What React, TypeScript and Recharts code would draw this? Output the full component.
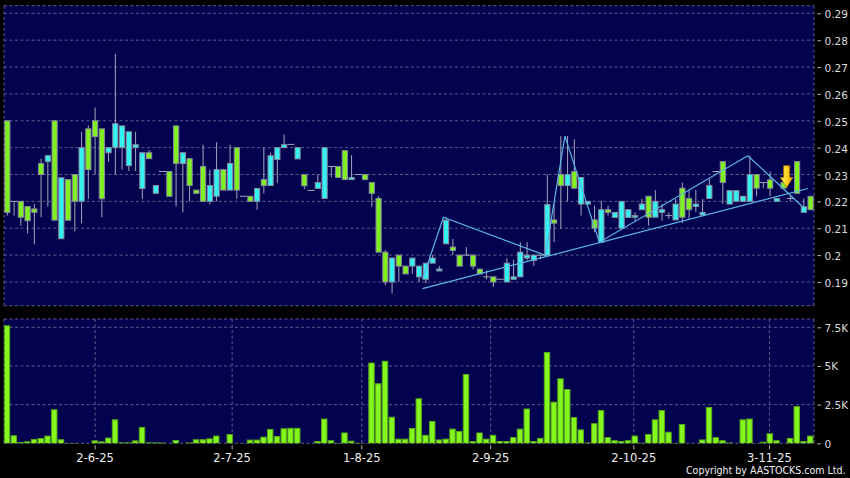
import React from 'react';
import { ComposedChart, Bar, Line, XAxis, YAxis, CartesianGrid, ReferenceDot } from 'recharts';

// ---------- data ----------
const opens = [
  0.25, 0.22, 0.22, 0.2181, 0.2172, 0.2341, 0.2348, 0.25, 0.2061, 0.2281,
  0.23, 0.22, 0.247, 0.25, 0.247, 0.2381, 0.24, 0.24, 0.2333, 0.24,
  0.2248, 0.2381, 0.223, 0.2311, 0.2311, 0.2481, 0.2341, 0.2359, 0.2242, 0.233,
  0.22, 0.2219, 0.2318, 0.2242, 0.24, 0.2219, 0.2219, 0.22, 0.2281, 0.2259,
  0.2356, 0.24, 0.2412, 0.2358, 0.23, 0.2241, 0.2248, 0.2211, 0.233, 0.233,
  0.2389, 0.2281, 0.23, 0.23, 0.227, 0.2211, 0.2011, 0.19, 0.2, 0.1959,
  0.1959, 0.1919, 0.191, 0.197, 0.1941, 0.2042, 0.203, 0.2, 0.2, 0.2,
  0.1948, 0.1919, 0.1919, 0.191, 0.19, 0.191, 0.1919, 0.1989, 0.198, 0.2,
  0.1999, 0.2131, 0.23, 0.2259, 0.2311, 0.219, 0.219, 0.2131, 0.2048, 0.2169,
  0.214, 0.21, 0.214, 0.2141, 0.2169, 0.2219, 0.2141, 0.2159, 0.2147, 0.2131,
  0.2249, 0.2211, 0.2181, 0.2149, 0.2211, 0.2311, 0.2348, 0.219, 0.22, 0.22,
  0.22, 0.23, 0.227, 0.228, 0.22, 0.227, 0.2211, 0.2348, 0.2159, 0.2219,
];
const highs = [
  0.25, 0.22, 0.22, 0.2181, 0.219, 0.2359, 0.237, 0.25, 0.2288, 0.2281,
  0.23, 0.2459, 0.2483, 0.2549, 0.247, 0.24, 0.2749, 0.2481, 0.2459, 0.2459,
  0.2381, 0.2391, 0.2259, 0.2311, 0.2311, 0.2481, 0.2381, 0.2359, 0.2242, 0.2411,
  0.2318, 0.242, 0.2318, 0.2411, 0.24, 0.2219, 0.2219, 0.2248, 0.24, 0.2381,
  0.24, 0.2449, 0.2412, 0.24, 0.23, 0.2241, 0.23, 0.24, 0.233, 0.233,
  0.2389, 0.2372, 0.23, 0.23, 0.227, 0.2219, 0.2019, 0.1989, 0.2, 0.1959,
  0.1989, 0.1959, 0.197, 0.2, 0.1959, 0.2141, 0.206, 0.2, 0.203, 0.2,
  0.1948, 0.1943, 0.1919, 0.191, 0.1989, 0.1983, 0.2048, 0.2048, 0.2, 0.2,
  0.23, 0.2189, 0.2443, 0.2443, 0.2431, 0.2289, 0.22, 0.2184, 0.2202, 0.2184,
  0.2159, 0.22, 0.2169, 0.2159, 0.2209, 0.2219, 0.2242, 0.219, 0.2159, 0.2209,
  0.227, 0.2242, 0.2242, 0.2209, 0.2283, 0.2311, 0.2348, 0.224, 0.224, 0.2219,
  0.2369, 0.23, 0.227, 0.2311, 0.2211, 0.227, 0.2219, 0.2348, 0.2211, 0.2219,
];
const lows = [
  0.2147, 0.2147, 0.211, 0.2081, 0.204, 0.2141, 0.2181, 0.213, 0.2061, 0.213,
  0.2089, 0.2119, 0.2209, 0.23, 0.2141, 0.2347, 0.23, 0.2318, 0.2313, 0.2313,
  0.2209, 0.2359, 0.223, 0.2311, 0.2219, 0.2181, 0.2159, 0.22, 0.223, 0.22,
  0.2189, 0.22, 0.2242, 0.2242, 0.2209, 0.2219, 0.22, 0.2169, 0.223, 0.2259,
  0.2269, 0.24, 0.2412, 0.2358, 0.2246, 0.2241, 0.2248, 0.2211, 0.2289, 0.2289,
  0.2281, 0.2281, 0.23, 0.2281, 0.218, 0.2011, 0.1888, 0.1858, 0.19, 0.193,
  0.193, 0.19, 0.1895, 0.197, 0.1941, 0.2042, 0.2, 0.1959, 0.2, 0.1947,
  0.193, 0.191, 0.1881, 0.191, 0.19, 0.191, 0.1919, 0.198, 0.1959, 0.1985,
  0.1999, 0.2048, 0.2098, 0.22, 0.2249, 0.2147, 0.219, 0.2085, 0.2048, 0.2147,
  0.214, 0.21, 0.214, 0.2128, 0.2169, 0.211, 0.2141, 0.2128, 0.2135, 0.2131,
  0.212, 0.2135, 0.216, 0.2149, 0.2211, 0.2311, 0.219, 0.219, 0.22, 0.22,
  0.22, 0.2219, 0.2249, 0.2219, 0.22, 0.2249, 0.22, 0.223, 0.2159, 0.2169,
];
const closes = [
  0.2159, 0.22, 0.2141, 0.2128, 0.2159, 0.23, 0.237, 0.213, 0.2288, 0.213,
  0.22, 0.24, 0.2318, 0.2441, 0.221, 0.24, 0.2489, 0.2481, 0.2459, 0.2411,
  0.2381, 0.2359, 0.2259, 0.2311, 0.2219, 0.2341, 0.2381, 0.2259, 0.223, 0.22,
  0.2259, 0.2318, 0.2242, 0.2341, 0.2242, 0.2219, 0.22, 0.2248, 0.2259, 0.237,
  0.24, 0.2411, 0.2412, 0.24, 0.2258, 0.2241, 0.227, 0.24, 0.233, 0.2289,
  0.2281, 0.2289, 0.23, 0.2281, 0.223, 0.2011, 0.19, 0.1989, 0.1959, 0.193,
  0.1989, 0.1959, 0.197, 0.1989, 0.1948, 0.213, 0.2017, 0.1959, 0.2, 0.1959,
  0.193, 0.1919, 0.19, 0.191, 0.197, 0.1919, 0.2011, 0.2, 0.2, 0.2,
  0.2188, 0.2119, 0.2259, 0.23, 0.2249, 0.2289, 0.22, 0.21, 0.2169, 0.2159,
  0.2159, 0.22, 0.2169, 0.2147, 0.219, 0.2141, 0.22, 0.2169, 0.2147, 0.219,
  0.2141, 0.2169, 0.219, 0.2159, 0.2259, 0.2311, 0.227, 0.224, 0.224, 0.2219,
  0.23, 0.2249, 0.227, 0.2249, 0.2211, 0.2249, 0.2211, 0.223, 0.218, 0.2169,
];
const volumes = [
  7630, 520, 90, 130, 280, 340, 500, 2200, 260, 20,
  20, 0, 0, 190, 130, 370, 1550, 60, 60, 190,
  1060, 60, 60, 50, 0, 220, 0, 50, 260, 260,
  320, 500, 0, 600, 0, 0, 240, 240, 430, 930,
  470, 970, 1000, 1000, 0, 0, 150, 1600, 200, 20,
  700, 170, 30, 0, 5220, 3880, 5340, 1720, 300, 300,
  990, 2910, 550, 1450, 250, 300, 950, 800, 4480, 150,
  700, 300, 550, 150, 150, 400, 950, 2250, 150, 350,
  5900, 2690, 4200, 3510, 1700, 900, 50, 1300, 2150, 400,
  200, 150, 200, 500, 30, 600, 1550, 2150, 750, 20,
  1250, 0, 0, 250, 2350, 400, 200, 50, 0, 1550,
  1600, 0, 100, 650, 200, 0, 350, 2400, 150, 500,
];

const dateTickIndex = [13.0, 33.3, 52.5, 71.6, 92.8, 112.9];
const dateTickLabels = ['2-6-25', '2-7-25', '1-8-25', '2-9-25', '2-10-25', '3-11-25'];
const priceTicks = [0.19, 0.2, 0.21, 0.22, 0.23, 0.24, 0.25, 0.26, 0.27, 0.28, 0.29];
const volumeTicks = [0, 2500, 5000, 7500];
const volumeTickLabels = ['0', '2.5K', '5K', '7.5K'];

const zigzagIndex = [61.5, 64.6, 79.7, 82.6, 87.7, 109.7, 117.9];
const zigzagPrice = [0.191, 0.2141, 0.1999, 0.2443, 0.2048, 0.237, 0.2178];
const trendIndex = [61.5, 118.6];
const trendPrice = [0.1875, 0.2248];
const signalIndex = 115.45;
const signalPrice = 0.2252;

const priceDomain = [0.18117, 0.29283];
const volumeDomain = [0, 8037];
const indexDomain = [-0.5, 119.5];

// ---------- tables built from the arrays ----------
const candles = opens.map((o, i) => ({
  i,
  open: o,
  high: Math.max(highs[i], o, closes[i]),
  low: Math.min(lows[i], o, closes[i]),
  close: closes[i],
  vol: volumes[i],
}));
const zigzagData = zigzagIndex.map((i, k) => ({ i, v: zigzagPrice[k] }));
const trendData = trendIndex.map((i, k) => ({ i, v: trendPrice[k] }));

// ---------- styles ----------
const NAVY = '#02024e';
const GRID = '#5c5c8c';
const GREEN = '#80f020';
const CYAN = '#34f2f2';
const OUTLINE = '#8888a0';
const WICK = '#a6a6be';
const TEXT = '#dcdcdc';
const VOL_FILL = '#84f81c';
const VOL_STROKE = '#58aa18';
const LINE = '#5cb6e8';
const FONT = '"DejaVu Sans", Verdana, sans-serif';

const renderCandle = (props: any) => {
  const { x, y, width, height, payload } = props;
  if (x == null || y == null || !payload) return <g />;
  const { open, close, high, low } = payload;
  const cx = x + width / 2;
  const top = Math.min(y, y + height);
  const h = Math.abs(height);
  const range = high - low;
  const ppu = range > 1e-5 ? h / range : 0;
  const yOf = (v: number) => top + (high - v) * ppu;
  const bodyTop = yOf(Math.max(open, close));
  const bodyBot = yOf(Math.min(open, close));
  if (Math.abs(close - open) < 1e-6) {
    return (
      <g>
        {range > 1e-5 && <line x1={cx} x2={cx} y1={yOf(high)} y2={yOf(low)} stroke={WICK} strokeWidth={1} />}
        <line x1={cx - 3.6} x2={cx + 3.6} y1={bodyTop} y2={bodyTop} stroke={WICK} strokeWidth={1} />
      </g>
    );
  }
  const fill = close > open ? CYAN : GREEN;
  return (
    <g>
      <line x1={cx} x2={cx} y1={yOf(high)} y2={yOf(low)} stroke={WICK} strokeWidth={1} />
      <rect x={cx - 2.6} y={bodyTop} width={5.2} height={Math.max(bodyBot - bodyTop, 1.5)} fill={fill} stroke={OUTLINE} strokeWidth={1} />
    </g>
  );
};

const renderVolume = (props: any) => {
  const { x, y, width, height } = props;
  if (x == null || !height || height <= 0) return <g />;
  const cx = x + width / 2;
  return (
    <rect x={cx - 2.7} y={y + 0.5} width={5.4} height={Math.max(height - 0.5, 0.6)} fill={VOL_FILL} stroke={VOL_STROKE} strokeWidth={1} />
  );
};

const renderArrow = (props: any) => {
  const { cx, cy } = props;
  if (cx == null || cy == null) return <g />;
  const d = `M ${cx - 3} ${cy - 21.6} L ${cx + 3} ${cy - 21.6} L ${cx + 3} ${cy - 10} L ${cx + 6.3} ${cy - 10} L ${cx} ${cy} L ${cx - 6.3} ${cy - 10} L ${cx - 3} ${cy - 10} Z`;
  return (
    <g>
      <defs>
        <linearGradient id="arrowGrad" x1="0" y1="0" x2="1" y2="0">
          <stop offset="0%" stopColor="#fff27a" />
          <stop offset="55%" stopColor="#ffd21a" />
          <stop offset="100%" stopColor="#e89a00" />
        </linearGradient>
      </defs>
      <path d={d} fill="url(#arrowGrad)" stroke="#b87a00" strokeWidth={0.8} />
    </g>
  );
};

const PriceTick = (props: any) => {
  const { x, y, payload } = props;
  const label = String(Math.round(payload.value * 100) / 100);
  return (
    <g>
      <line x1={x + 3.5} x2={x + 7} y1={y + 0.5} y2={y + 0.5} stroke="#b4b4b4" strokeWidth={1} />
      <text x={x + 10.5} y={y} dy={5} fill={TEXT} fontSize={10.5} fontFamily={FONT}>{label}</text>
    </g>
  );
};

const VolumeTick = (props: any) => {
  const { x, y, payload } = props;
  const k = volumeTicks.indexOf(payload.value);
  const label = k >= 0 ? volumeTickLabels[k] : '';
  return (
    <g>
      <line x1={x + 3.5} x2={x + 7} y1={y + 0.5} y2={y + 0.5} stroke="#b4b4b4" strokeWidth={1} />
      <text x={x + 10.5} y={y} dy={4.5} fill={TEXT} fontSize={10.5} fontFamily={FONT}>{label}</text>
    </g>
  );
};

const DateTick = (props: any) => {
  const { x, y, payload } = props;
  let k = -1;
  dateTickIndex.forEach((v, j) => { if (Math.abs(v - payload.value) < 1e-6) k = j; });
  const label = k >= 0 ? dateTickLabels[k] : '';
  return (
    <g>
      <line x1={x} x2={x} y1={y + 2} y2={y + 6} stroke="#b4b4b4" strokeWidth={1} />
      <text x={x} y={y} dy={18.4} textAnchor="middle" fill="#ececec" fontSize={11.5} fontFamily={FONT}>{label}</text>
    </g>
  );
};

export default function App() {
  return (
    <div style={{ position: 'absolute', left: 0, top: 0, width: 850, height: 478, background: '#000', overflow: 'hidden' }}>
      <div style={{ position: 'absolute', left: 0, top: 0 }}>
        <ComposedChart width={850} height={310} data={candles} margin={{ top: 5.7, right: 0, bottom: 4.3, left: 4 }}>
          <CartesianGrid stroke={GRID} strokeDasharray="3 2.5" fill={NAVY} fillOpacity={1} />
          <XAxis
            dataKey="i"
            type="number"
            domain={indexDomain}
            allowDataOverflow
            ticks={dateTickIndex}
            interval={0}
            height={0}
            tick={false}
            axisLine={false}
            tickLine={false}
          />
          <YAxis
            orientation="right"
            width={36}
            type="number"
            domain={priceDomain}
            allowDataOverflow
            ticks={priceTicks}
            interval={0}
            tickSize={0}
            tickMargin={0}
            axisLine={false}
            tickLine={false}
            tick={<PriceTick />}
          />
          <Bar
            dataKey={(d: any) => [d.low, d.high > d.low ? d.high : d.low + 0.00001]}
            barSize={6}
            shape={renderCandle}
            isAnimationActive={false}
          />
          <Line data={trendData} dataKey="v" stroke={LINE} strokeWidth={1.2} dot={false} activeDot={false} isAnimationActive={false} />
          <Line data={zigzagData} dataKey="v" stroke={LINE} strokeWidth={1.2} dot={false} activeDot={false} isAnimationActive={false} />
          <ReferenceDot x={signalIndex} y={signalPrice} shape={renderArrow} />
        </ComposedChart>
      </div>
      <div style={{ position: 'absolute', left: 0, top: 310 }}>
        <ComposedChart width={850} height={168} data={candles} margin={{ top: 9, right: 0, bottom: 4.7, left: 4 }}>
          <CartesianGrid stroke={GRID} strokeDasharray="3 2.5" fill={NAVY} fillOpacity={1} />
          <XAxis
            dataKey="i"
            type="number"
            domain={indexDomain}
            allowDataOverflow
            ticks={dateTickIndex}
            interval={0}
            height={30}
            tickSize={0}
            tickMargin={0}
            axisLine={false}
            tickLine={false}
            tick={<DateTick />}
          />
          <YAxis
            orientation="right"
            width={36}
            type="number"
            domain={volumeDomain}
            allowDataOverflow
            ticks={volumeTicks}
            interval={0}
            tickSize={0}
            tickMargin={0}
            axisLine={false}
            tickLine={false}
            tick={<VolumeTick />}
          />
          <Bar dataKey="vol" barSize={6} shape={renderVolume} isAnimationActive={false} />
        </ComposedChart>
      </div>
      <svg width={850} height={478} style={{ position: 'absolute', left: 0, top: 0, pointerEvents: 'none' }}>
        <text x={845.5} y={473.5} textAnchor="end" fill="#f0f0f0" fontSize={10.5} fontFamily={FONT} textLength={159.5} lengthAdjust="spacingAndGlyphs">
          Copyright by AASTOCKS.com Ltd.
        </text>
      </svg>
    </div>
  );
}
